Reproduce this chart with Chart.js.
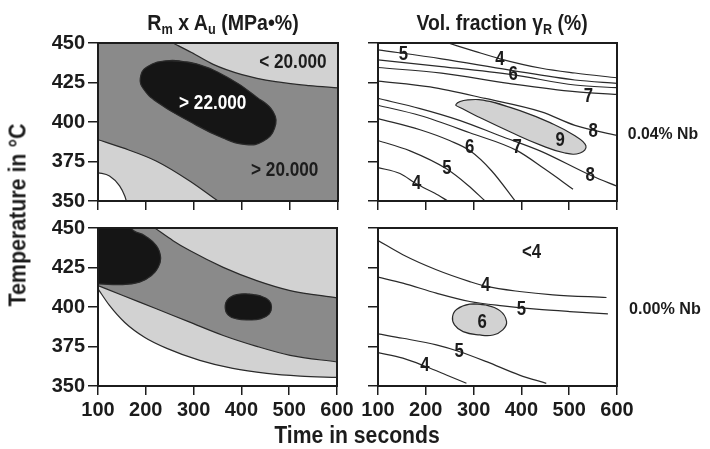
<!DOCTYPE html>
<html><head><meta charset="utf-8">
<script src="https://cdn.jsdelivr.net/npm/chart.js@4.4.1/dist/chart.umd.min.js"></script>
<style>
html,body{margin:0;padding:0;background:#fff;}
#wrap{position:relative;width:710px;height:449px;overflow:hidden;
  font-family:'Liberation Sans',Arial,sans-serif;font-weight:bold;color:#1c1c1c;}
canvas{position:absolute;left:0;top:0;}
.lbl{position:absolute;white-space:nowrap;line-height:1;}
.lbl sub{font-size:65%;vertical-align:-0.28em;line-height:0;}
</style></head><body>
<div id="wrap">
<canvas id="cTL" width="710" height="449"></canvas>
<canvas id="cTR" width="710" height="449"></canvas>
<canvas id="cBL" width="710" height="449"></canvas>
<canvas id="cBR" width="710" height="449"></canvas>
<div class="lbl" style="left:223px;top:23px;font-size:22px;transform:translate(-50%,-50%) scaleX(0.89);">R<sub>m</sub> x A<sub>u</sub> (MPa•%)</div>
<div class="lbl" style="left:502px;top:23px;font-size:22px;transform:translate(-50%,-50%) scaleX(0.88);">Vol. fraction γ<sub>R</sub> (%)</div>
<div class="lbl" style="left:663px;top:133px;font-size:17px;transform:translate(-50%,-50%) scaleX(0.93);">0.04% Nb</div>
<div class="lbl" style="left:665px;top:308px;font-size:17px;transform:translate(-50%,-50%) scaleX(0.95);">0.00% Nb</div>
<div class="lbl" style="left:357px;top:435px;font-size:23px;transform:translate(-50%,-50%) scaleX(0.92);">Time in seconds</div>
<div class="lbl" style="left:18px;top:215px;font-size:23px;transform:translate(-50%,-50%) rotate(-90deg) scaleX(0.93);">Temperature in °C</div>
</div>
<script>
// ---------- axes ----------
const timeTicks = [100, 200, 300, 400, 500, 600];
const tempTicks = [350, 375, 400, 425, 450];

// ---------- 0.04% Nb : Rm x Au (MPa·%) ----------
const tl_lt20000 = [[256,450],[295,444],[340,436.5],[400,430],[470,425.5],[540,423],[600,421.6]];
const tl_gt22000 = [[249,438.9],[305,436.8],[374,427.5],[430,415.9],[465,406.5],[468,396.1],[444,387.8],[409,385.7],[360,389.9],[291,400.3],[222,412.8],[194,421.2],[188,427.5],[201,434.7],[249,438.9],[305,436.8]];
const tl_gt20000_low = [[100,388.8],[152,383.6],[222,375.2],[291,362.7],[350,350]];
const tl_corner = [[100,368],[124,365.8],[145,359.6],[156,353],[159,350]];

// ---------- 0.04% Nb : vol. fraction gamma_R (%) ----------
const tr_4a = [[247,450],[303,444.7],[355,440],[442,434],[512,431],[600,428]];
const tr_5a = [[100,445.7],[233,440],[373,433],[512,426.6],[600,424.5]];
const tr_6a = [[100,439.3],[233,435.1],[383,429.8],[512,423.4],[600,421.7]];
const tr_7a = [[100,434.5],[233,430.9],[373,424.5],[512,419.2],[600,417.5]];
const tr_8a = [[100,425.9],[209,422.2],[324,414.9],[442,406.4],[512,397.9],[600,391.5]];
const tr_9  = [[334,413],[397,407.2],[460,399.6],[512,391.3],[535,384.9],[523,380.4],[491,380.4],[439,385.5],[376,393.8],[313,402.8],[276,408.5],[263,411.1],[288,414],[334,413],[397,407.2]];
const tr_8b = [[100,414.9],[188,408.5],[272,400.9],[355,391.3],[439,381.7],[548,365.8],[600,359.4]];
const tr_7b = [[100,410.6],[188,404.1],[292,393.2],[391,381.9],[449,370.2],[508,357.5]];
const tr_6b = [[100,402.1],[188,395.1],[251,388.1],[292,381.9],[338,369],[387,350]];
const tr_5b = [[100,388.3],[167,381.7],[244,370.2],[288,360],[324,350]];
const tr_4b = [[100,371.2],[146,367.4],[181,360.7],[219,354.9],[246,350]];

// ---------- 0.00% Nb : Rm x Au ----------
const bl_upper  = [[219,450],[257,442],[292,435.7],[362,425.1],[432,416.7],[502,410.4],[600,405.8]];
const bl_middle = [[100,413.6],[152,407.3],[222,398.9],[292,390.4],[362,382],[432,375.1],[502,369.4],[600,365.2]];
const bl_lowest = [[100,411.5],[124,401],[156,390.2],[198,380.7],[244,373.8],[313,366.2],[382,361.1],[453,358],[523,356.3],[600,355.4]];
const bl_peakA  = [[60,414.8],[100,414.6],[152,414.2],[187,415.7],[212,419.9],[226,425.1],[231,431.4],[222,438.8],[198,445.1],[170,450],[150,475],[60,475]];
const bl_peakB  = [[415,408.2],[440,407],[458,404],[463,400],[458,395.5],[440,392.5],[415,391.8],[390,392.5],[372,395],[366,400],[372,405],[390,407.8],[415,408.2],[440,407]];

// ---------- 0.00% Nb : vol. fraction ----------
const br_4a = [[100,442.1],[152,433.1],[222,423.6],[292,416.1],[327,413],[396,409.8],[466,407.7],[578,406]];
const br_5a = [[100,418.9],[152,415.1],[222,408.8],[292,403.5],[361,400.7],[431,398.6],[501,397.1],[581,395.7]];
const br_6  = [[292,401.8],[323,401.4],[355,397.7],[369,390.8],[361,385.5],[341,382.3],[313,382.3],[278,384.4],[260,388.7],[256,393.9],[265,398.6],[292,401.8],[323,401.4]];
const br_5b = [[100,383],[152,380.2],[222,376],[271,371.7],[327,365.4],[396,356.9],[452,351.7]];
const br_4b = [[100,371.1],[152,367.6],[201,362.2],[243,357],[285,351.7]];

// ---------- contour labels (data coordinates) ----------
const tl_labels = [[506,437.9,'< 20.000'],[339,411.8,'> 22.000'],[489,369,'> 20.000']];
const tr_labels = [[153,442.5,'5'],[355,439.3,'4'],[383,429.8,'6'],[540,416,'7'],[550,393.6,'8'],[481,388.3,'9'],[544,366,'8'],[391,383.6,'7'],[292,383.6,'6'],[244,370.2,'5'],[181,360.7,'4']];
const br_labels = [[421,434.1,'<4'],[325,413.4,'4'],[400,398.6,'5'],[318,389.8,'6'],[270,371.7,'5'],[198,362.7,'4']];

// ---------- styling ----------
const FONT = "'Liberation Sans',Arial,sans-serif";
const INK = '#1c1c1c', LINE = '#2a2a2a';
const DARK = '#8a8a8a', LIGHT = '#d2d2d2', BLACK = '#151515', WHITE = '#ffffff';
Chart.defaults.font.family = FONT;
Chart.defaults.font.weight = 'bold';
Chart.defaults.color = INK;

const pts = a => a.map(([x, y]) => ({x, y}));
function ds(arr, o) {
  return Object.assign({data: pts(arr), borderColor: LINE, borderWidth: 1.2, pointRadius: 0,
    fill: false, tension: 0.4, cubicInterpolationMode: 'monotone'}, o);
}
function loop(arr, color, order) {
  return ds(arr, {fill: 'shape', backgroundColor: color, cubicInterpolationMode: 'default', tension: 0.45, order});
}

const bgPlugin = color => ({id: 'bg', beforeDatasetsDraw(c) {
  const a = c.chartArea; c.ctx.save(); c.ctx.fillStyle = color;
  c.ctx.fillRect(a.left, a.top, a.right - a.left, a.bottom - a.top); c.ctx.restore(); }});
const framePlugin = {id: 'frame', afterDatasetsDraw(c) {
  const a = c.chartArea, g = c.ctx; g.save(); g.strokeStyle = INK; g.lineWidth = 2;
  g.strokeRect(a.left, a.top, a.right - a.left, a.bottom - a.top); g.restore(); }};
const labelPlugin = (items, size, color) => ({id: 'clabels', afterDatasetsDraw(c) {
  const g = c.ctx, xs = c.scales.x, ys = c.scales.y;
  items.forEach(([x, y, t, col]) => {
    g.save();
    g.font = 'bold ' + size + 'px ' + FONT; g.textAlign = 'center'; g.textBaseline = 'middle';
    g.fillStyle = col || color;
    g.translate(xs.getPixelForValue(x), ys.getPixelForValue(y));
    g.scale(0.86, 1);
    g.fillText(t, 0, 0);
    g.restore();
  });
}});

function panel(id, area, xLabels, yLabels, datasets, plugins) {
  const yW = yLabels ? area.left : 12;
  const xH = xLabels ? 40 : 12;
  const gridX = {drawOnChartArea: false, drawTicks: true, tickLength: 9, color: INK, lineWidth: 1.5};
  const gridY = {drawOnChartArea: false, drawTicks: true, tickLength: 10, color: INK, lineWidth: 1.5};
  new Chart(document.getElementById(id), {
    type: 'line',
    data: {datasets},
    options: {
      responsive: false, animation: false, devicePixelRatio: 1,
      elements: {line: {capBezierPoints: false}},
      layout: {padding: {left: area.left - yW, top: area.top, right: 710 - area.right, bottom: 449 - area.bottom - xH}, autoPadding: false},
      plugins: {legend: {display: false}, tooltip: {enabled: false}},
      scales: {
        x: {type: 'linear', min: 100, max: 600,
          afterBuildTicks: s => { s.ticks = timeTicks.map(v => ({value: v})); },
          afterFit: s => { s.height = xH; },
          ticks: {display: xLabels, padding: 3, color: INK, font: {size: 20, weight: 'bold'}, maxRotation: 0},
          grid: gridX, border: {display: true, color: INK, width: 2}},
        y: {type: 'linear', min: 350, max: 450,
          afterBuildTicks: s => { s.ticks = tempTicks.map(v => ({value: v})); },
          afterFit: s => { s.width = yW; },
          ticks: {display: yLabels, padding: 3, color: INK, font: {size: 20, weight: 'bold'}},
          grid: gridY, border: {display: true, color: INK, width: 2}}
      }
    },
    plugins: plugins.concat([framePlugin])
  });
}

// top-left: 0.04% Nb, Rm x Au
panel('cTL', {left: 98, right: 338, top: 43, bottom: 201}, false, true, [
  loop(tl_gt22000, BLACK, 1),
  ds(tl_lt20000, {fill: 'end', backgroundColor: LIGHT, order: 2}),
  ds(tl_corner, {fill: 'start', backgroundColor: WHITE, order: 3}),
  ds(tl_gt20000_low, {fill: 'start', backgroundColor: LIGHT, order: 4})
], [bgPlugin(DARK), labelPlugin(tl_labels.map((l, i) => i === 1 ? [...l, '#ffffff'] : l), 20, INK)]);

// top-right: 0.04% Nb, vol. fraction
panel('cTR', {left: 378, right: 617, top: 43, bottom: 201}, false, false, [
  loop(tr_9, LIGHT, 1),
  ds(tr_4a, {order: 2}), ds(tr_5a, {order: 2}), ds(tr_6a, {order: 2}), ds(tr_7a, {order: 2}),
  ds(tr_8a, {order: 2}), ds(tr_8b, {order: 2}), ds(tr_7b, {order: 2}), ds(tr_6b, {order: 2}),
  ds(tr_5b, {order: 2}), ds(tr_4b, {order: 2})
], [labelPlugin(tr_labels, 19.5, INK)]);

// bottom-left: 0.00% Nb, Rm x Au
panel('cBL', {left: 98, right: 337, top: 228, bottom: 386}, true, true, [
  loop(bl_peakB, BLACK, 1),
  loop(bl_peakA, BLACK, 2),
  ds(bl_upper, {fill: 'end', backgroundColor: LIGHT, order: 3}),
  ds(bl_middle, {fill: 'end', backgroundColor: DARK, order: 4}),
  ds(bl_lowest, {fill: 'end', backgroundColor: LIGHT, order: 5})
], []);

// bottom-right: 0.00% Nb, vol. fraction
panel('cBR', {left: 378, right: 617, top: 228, bottom: 386}, true, false, [
  loop(br_6, LIGHT, 1),
  ds(br_4a, {order: 2}), ds(br_5a, {order: 2}), ds(br_5b, {order: 2}), ds(br_4b, {order: 2})
], [labelPlugin(br_labels, 19.5, INK)]);
</script>
</body></html>
